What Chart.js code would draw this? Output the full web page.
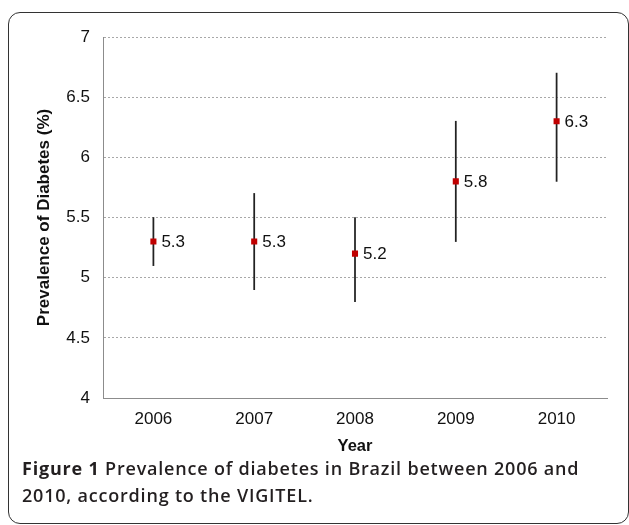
<!DOCTYPE html>
<html>
<head>
<meta charset="utf-8">
<script src="https://cdn.jsdelivr.net/npm/chart.js@4"></script>
<style>
  html, body { margin: 0; padding: 0; background: #fff; }
  #wrap { position: relative; width: 629px; height: 525px; overflow: hidden; }
  #frame {
    position: absolute; left: 8px; top: 12px; width: 621px; height: 512px;
    border: 1.5px solid #333; border-radius: 12px; box-sizing: border-box;
  }
  #chartBox { position: absolute; left: 0; top: 0; width: 629px; height: 460px; }
  #caption {
    position: absolute; left: 22px; top: 455px; width: 605px; white-space: nowrap;
    font-family: "Open Sans", "Noto Sans", sans-serif; font-size: 18px; font-weight: 600;
    letter-spacing: 0.8px; line-height: 27px; color: #231f20;
  }
  #caption b { font-weight: 700; }
</style>
</head>
<body>
<div id="wrap">
  <div id="frame"></div>
  <div id="chartBox"><canvas id="myChart"></canvas></div>
  <div id="caption"><b>Figure 1</b> Prevalence of diabetes in Brazil between 2006 and<br>2010, according to the VIGITEL.</div>
</div>
<script>
// du lieu doc tu hinh
let years = ["2006", "2007", "2008", "2009", "2010"];
let prevalence = [5.3, 5.3, 5.2, 5.8, 6.3];
let lowerCI = [5.1, 4.9, 4.8, 5.3, 5.8];
let upperCI = [5.5, 5.7, 5.5, 6.3, 6.7];
let yTicks = [4, 4.5, 5, 5.5, 6, 6.5, 7];

let errorBars = [];
for (let i = 0; i < years.length; i++) {
  errorBars.push([lowerCI[i], upperCI[i]]);
}

const labelFont = "'Liberation Sans', Arial, sans-serif";

// ve so ben canh diem
const pointLabels = {
  id: "pointLabels",
  afterDatasetsDraw(chart) {
    const ctx = chart.ctx;
    const meta = chart.getDatasetMeta(1);
    ctx.save();
    ctx.font = "17px " + labelFont;
    ctx.fillStyle = "#111";
    ctx.textBaseline = "middle";
    ctx.textAlign = "left";
    meta.data.forEach((pt, i) => {
      ctx.fillText(prevalence[i].toFixed(1), pt.x + 8, pt.y + 1);
    });
    ctx.restore();
  },
};

let myChart = new Chart("myChart", {
  data: {
    labels: years,
    datasets: [
      {
        type: "bar",
        data: errorBars,
        backgroundColor: "#222",
        barThickness: 1.1,
        borderWidth: 0,
        order: 2,
      },
      {
        type: "line",
        data: prevalence,
        showLine: false,
        pointStyle: "rect",
        pointRadius: 4.3,
        pointHoverRadius: 4.3,
        pointBorderWidth: 0,
        pointBackgroundColor: "#c00000",
        borderColor: "#c00000",
        order: 1,
      },
    ],
  },
  options: {
    responsive: true,
    maintainAspectRatio: false,
    animation: false,
    layout: { padding: { left: 26, top: 37, right: 22, bottom: 0 } },
    plugins: { legend: { display: false }, tooltip: { enabled: false } },
    scales: {
      x: {
        offset: true,
        grid: { display: false },
        border: { display: true, color: "#8c8c8c", width: 1 },
        ticks: {
          color: "#111",
          padding: 3,
          font: { family: labelFont, size: 17 },
        },
        title: {
          display: true,
          text: "Year",
          color: "#111",
          padding: { top: 4, bottom: 4 },
          font: { family: labelFont, size: 16.5, weight: "bold" },
        },
        afterFit(scale) { scale.height = 62; },
      },
      y: {
        min: 4,
        max: 7,
        afterBuildTicks(scale) { scale.ticks = yTicks.map((v) => ({ value: v })); },
        grid: {
          drawTicks: false,
          color: (c) => (c.tick && c.tick.value === 4 ? "rgba(0,0,0,0)" : "#a8a8a8"),
          lineWidth: 1,
        },
        border: { display: true, color: "#8c8c8c", width: 1, dash: [2, 2] },
        ticks: {
          color: "#111",
          padding: 13,
          callback: (v) => String(v),
          font: { family: labelFont, size: 17 },
        },
        title: {
          display: true,
          text: "Prevalence of Diabetes (%)",
          color: "#111",
          padding: { top: 8, bottom: 8 },
          font: { family: labelFont, size: 17, weight: "bold" },
        },
        afterFit(scale) { scale.width = 77; },
      },
    },
  },
  plugins: [pointLabels],
});
</script>
</body>
</html>
